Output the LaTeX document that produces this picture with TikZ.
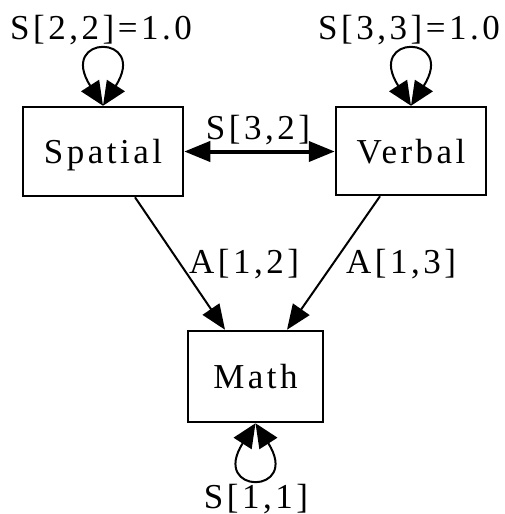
\documentclass[tikz,border=0pt]{standalone}
\usepackage{fontspec}
\setmainfont[LetterSpace=10]{Liberation Serif}
\usetikzlibrary{arrows.meta}

\tikzset{
  var/.style={draw, line width=2.5pt, inner sep=0pt,
    text height=24pt, text depth=0pt,
    font=\fontsize{35}{40}\selectfont},
  lbl/.style={anchor=base, inner sep=0pt, font=\fontsize{35}{40}\selectfont},
  regpath/.style={line width=2pt, -{Triangle[length=25pt, width=20pt]}},
  cov/.style={line width=4pt, {Triangle[length=26pt, width=20pt]}-{Triangle[length=26pt, width=20pt]}},
  selfloop/.style={line width=2pt, {Triangle[length=24pt, width=21pt]}-{Triangle[length=24pt, width=21pt]}}
}

\begin{document}
\begin{tikzpicture}[x=1pt, y=-1pt]
  \useasboundingbox (0,0) rectangle (504,514);

  % variables
  \node[var, minimum width=160pt, minimum height=89pt] (sp) at (103,151.5) {Spatial};
  \node[var, minimum width=150pt, minimum height=88pt] (vb) at (411,151) {Verbal};
  \node[var, minimum width=135pt, minimum height=91pt] (ma) at (255.5,376.5) {Math};

  % variances as self loops
  \draw[selfloop] (sp.north) .. controls +(-46,-72) and +(46,-72) .. (sp.north);
  \draw[selfloop] (vb.north) .. controls +(-46,-72) and +(46,-72) .. (vb.north);
  \draw[selfloop] (ma.south) .. controls +(-46,72) and +(46,72) .. (ma.south);

  % covariance
  \draw[cov] (sp.east) -- (sp.east -| vb.west);

  % regression paths
  \coordinate (spo) at ([xshift=32pt]sp.south);
  \coordinate (vbo) at ([xshift=-31pt]vb.south);
  \coordinate (mal) at ([xshift=-30.5pt]ma.north);
  \coordinate (mar) at ([xshift=31.5pt]ma.north);
  \draw[regpath] (spo) -- (mal);
  \draw[regpath] (vbo) -- (mar);

  % labels
  \node[lbl] (l22) at (101,39) {S[2,2]=1.0};
  \node[lbl] (l33) at (409,39) {S[3,3]=1.0};
  \node[lbl] (l32) at (258,139) {S[3,2]};
  \node[lbl] (l12) at (244,273) {A[1,2]};
  \node[lbl] (l13) at (401,273) {A[1,3]};
  \node[lbl] (l11) at (256,508) {S[1,1]};
\end{tikzpicture}
\end{document}
